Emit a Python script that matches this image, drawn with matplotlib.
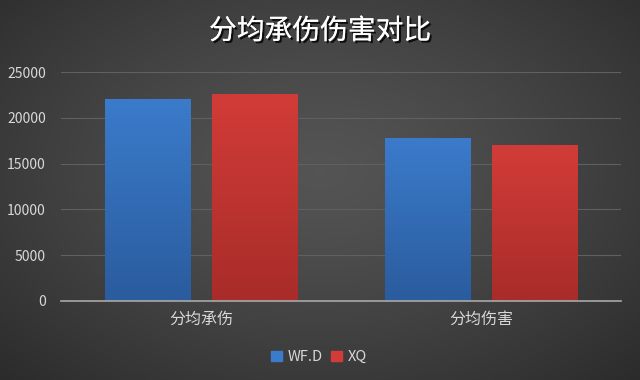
import numpy as np
import matplotlib
matplotlib.use("Agg")
import matplotlib.pyplot as plt
import matplotlib.patheffects as pe
from matplotlib.patches import Patch

plt.rcParams['font.family'] = ['Noto Sans CJK SC', 'DejaVu Sans']

categories = ['分均承伤', '分均伤害']
series_names = ['WF.D', 'XQ']
wfd_values = [22000, 17800]
xq_values = [22600, 17000]
yticks = [0, 5000, 10000, 15000, 20000, 25000]
title = '分均承伤伤害对比'

fig = plt.figure(figsize=(6.4, 3.8), dpi=100)

# background radial gradient
bg = fig.add_axes([0, 0, 1, 1], zorder=-10)
yy, xx = np.mgrid[0:1:380j, 0:1:640j]
r = np.sqrt(((xx - 0.5) / 0.75) ** 2 + ((yy - 0.55) / 0.8) ** 2)
v = 0.33 - 0.17 * np.clip(r, 0, 1) ** 1.3
img = np.dstack([v, v, v])
bg.imshow(img, aspect='auto', extent=[0, 1, 0, 1], origin='lower')
bg.axis('off')

ax = fig.add_axes([61 / 640, 1 - 301 / 380, 560 / 640, (301 - 72) / 380])
ax.set_facecolor('none')

x = np.arange(len(categories))
w = 0.305
off = 0.38 / 2 + 0.002
cols_top = ['#3b7bcb', '#d23c38']
cols_bot = ['#2a5c9e', '#a82c29']
for vals, sgn, ct, cb in [(wfd_values, -1, cols_top[0], cols_bot[0]), (xq_values, 1, cols_top[1], cols_bot[1])]:
    bars = ax.bar(x + sgn * off, vals, width=w, color=ct, zorder=3)
    for b in bars:
        x0, y0 = b.get_x(), b.get_y()
        x1, y1 = x0 + b.get_width(), y0 + b.get_height()
        c1 = np.array(matplotlib.colors.to_rgb(ct))
        c2 = np.array(matplotlib.colors.to_rgb(cb))
        t = np.linspace(0, 1, 100)[:, None]
        grad = (c2 * (1 - t) + c1 * t)[:, None, :]
        im = ax.imshow(grad, extent=[x0, x1, y0, y1], origin='lower', aspect='auto', zorder=4)
        im.set_clip_path(b)

ax.set_xlim(-0.5, 1.5)
ax.set_ylim(0, 25000)
ax.set_yticks(yticks)
ax.set_yticklabels([str(t) for t in yticks])
ax.set_xticks(x)
ax.set_xticklabels(categories)
ax.grid(axis='y', color='#606060', linewidth=0.8, zorder=0)
for s in ['top', 'right', 'left']:
    ax.spines[s].set_visible(False)
ax.spines['bottom'].set_color('#a8a8a8')
ax.spines['bottom'].set_linewidth(1.2)
ax.spines['bottom'].set_zorder(5)
ax.tick_params(axis='both', length=0, colors='#d8d8d8')
ax.tick_params(axis='y', pad=11, labelsize=10)
ax.tick_params(axis='x', pad=7, labelsize=11.5)
ax.set_axisbelow(True)

fig.text(0.5, 1 - 31 / 380, title, ha='center', va='center', fontsize=20, color='white',
         path_effects=[pe.withSimplePatchShadow(offset=(1.5, -1.5), shadow_rgbFace='black', alpha=0.8), pe.Normal()])

handles = [Patch(color=cols_top[0]), Patch(color=cols_top[1])]
fig.legend(handles, series_names, loc='center', bbox_to_anchor=(319 / 640, 1 - 357 / 380), ncol=2,
           frameon=False, labelcolor='#d8d8d8', fontsize=10.5, handlelength=0.7, handleheight=0.7,
           handletextpad=0.4, columnspacing=0.6)

fig.savefig('out.png', dpi=100)
